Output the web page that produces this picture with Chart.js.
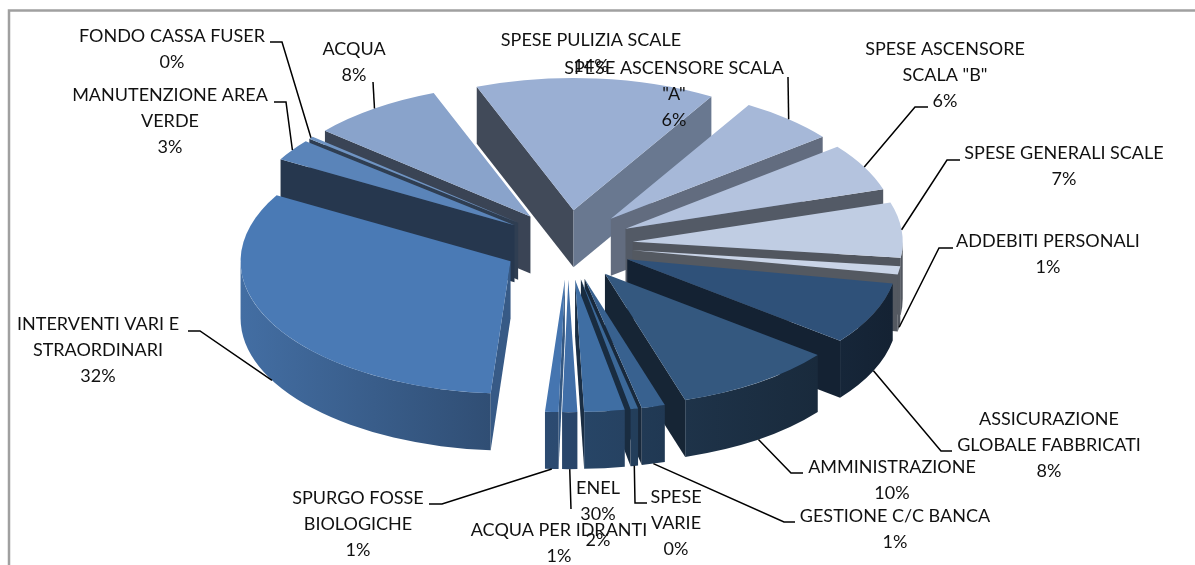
<!DOCTYPE html>
<html>
<head>
<meta charset="utf-8">
<title>Ripartizione spese</title>
<script src="https://cdn.jsdelivr.net/npm/chart.js@4/dist/chart.umd.min.js"></script>
<style>
    html, body { margin: 0; padding: 0; background: #fff; overflow: hidden; }
    canvas { display: block; }
</style>
</head>
<body>
<canvas id="chart-spese" width="1195" height="565"></canvas>
<script>
// ── Dati ─────────────────────────────────────────────────────────
const categories = [
    'SPESE PULIZIA SCALE', 'SPESE ASCENSORE SCALA "A"', 'SPESE ASCENSORE SCALA "B"', 'SPESE GENERALI SCALE',
    'ADDEBITI PERSONALI', 'ASSICURAZIONE GLOBALE FABBRICATI', 'AMMINISTRAZIONE', 'GESTIONE C/C BANCA',
    'SPESE VARIE', 'ENEL 30%', 'ACQUA PER IDRANTI', 'SPURGO FOSSE BIOLOGICHE',
    'INTERVENTI VARI E STRAORDINARI', 'MANUTENZIONE AREA VERDE', 'FONDO CASSA FUSER', 'ACQUA'
];
const values = [14.3, 5.8, 5.8, 6.7, 1, 7.6, 9.6, 1.4, 0.45, 2.4, 0.9, 0.8, 32, 2.6, 0.3, 7.9];

// righe delle etichette, come vanno a capo nel grafico
const labelLines = [
    ['SPESE PULIZIA SCALE'], ['SPESE ASCENSORE SCALA', '"A"'], ['SPESE ASCENSORE', 'SCALA "B"'], ['SPESE GENERALI SCALE'],
    ['ADDEBITI PERSONALI'], ['ASSICURAZIONE', 'GLOBALE FABBRICATI'], ['AMMINISTRAZIONE'], ['GESTIONE C/C BANCA'],
    ['SPESE', 'VARIE'], ['ENEL', '30%'], ['ACQUA PER IDRANTI'], ['SPURGO FOSSE', 'BIOLOGICHE'],
    ['INTERVENTI VARI E', 'STRAORDINARI'], ['MANUTENZIONE AREA', 'VERDE'], ['FONDO CASSA FUSER'], ['ACQUA']
];

const sliceColors = [
    '#9aafd3', '#a6b8d8', '#b4c3de', '#c0cde3', '#c9d4e7', '#2f5179', '#34587f', '#38618f',
    '#3b6898', '#3f6ea3', '#416fa8', '#4575b0', '#4a7ab5', '#5a84b9', '#6f94c3', '#89a3cb'
];

// ── Layout etichette: centro testo, prima riga, gomito della linea guida ──
const labelBoxes = [
    { x: 591, y: 40 }, { x: 674, y: 68, stub: [788, 77], elbow: [788, 77] },
    { x: 945, y: 49, stub: [928, 107], elbow: [915, 107] }, { x: 1064, y: 153, stub: [960, 160], elbow: [947, 160] },
    { x: 1048, y: 241, stub: [953, 248], elbow: [939, 248] }, { x: 1049, y: 419, stub: [952, 451], elbow: [941, 451] },
    { x: 892, y: 467, stub: [803, 473], elbow: [791, 473] }, { x: 895, y: 516, stub: [795, 522], elbow: [784, 522] },
    { x: 676, y: 497, stub: [647, 503], elbow: [635, 503] }, { x: 598, y: 488 },
    { x: 559, y: 530, stub: [571, 509], elbow: [571, 509] }, { x: 358, y: 498, stub: [429, 504], elbow: [442, 504] },
    { x: 98, y: 324, stub: [188, 331], elbow: [200, 331] }, { x: 170, y: 95, stub: [274, 102], elbow: [286, 102] },
    { x: 172, y: 36, stub: [270, 42], elbow: [282, 42] }, { x: 354, y: 49, stub: [373, 82], elbow: [373, 82] }
];

// ── Finta prospettiva 3D ─────────────────────────────────────────
const TILT = 0.49;     // schiacciamento verticale
const DEPTH = 57;      // spessore della torta
const EXPLODE = 65;    // distacco delle fette dal centro
const FRONT_DROP = 3;  // le fette davanti scendono un po' (prospettiva)
const LINE_H = 26;

function shade(hex, f) {
    const n = parseInt(hex.slice(1), 16);
    const c = [n >> 16, (n >> 8) & 255, n & 255].map(v => Math.round(v * f));
    return `rgb(${c[0]},${c[1]},${c[2]})`;
}

// luminosita' delle pareti radiali in base alla normale
function radialShade(nx) {
    return 0.42 + 0.4 * Math.max(0, nx - 0.2);
}

// luminosita' della parete esterna, angolo in radianti del grafico
function rimShade(a) {
    const deg = a * 180 / Math.PI + 90;
    return Math.min(0.9, Math.max(0.42, 0.45 + (deg - 120) / 150 * 0.45));
}

function sliceGeom(arc) {
    const mid = (arc.startAngle + arc.endAngle) / 2;
    const cx = arc.x + EXPLODE * Math.cos(mid);
    const cy = arc.y + EXPLODE * Math.sin(mid) * TILT + FRONT_DROP * (1 + Math.sin(mid));
    return {
        mid, cx, cy,
        r: arc.outerRadius,
        at: a => [cx + arc.outerRadius * Math.cos(a), cy + arc.outerRadius * Math.sin(a) * TILT]
    };
}

function radialWall(ctx, g, a, color) {
    const p = g.at(a);
    ctx.fillStyle = color;
    ctx.beginPath();
    ctx.moveTo(g.cx, g.cy);
    ctx.lineTo(p[0], p[1]);
    ctx.lineTo(p[0], p[1] + DEPTH);
    ctx.lineTo(g.cx, g.cy + DEPTH);
    ctx.closePath();
    ctx.fill();
}

function drawSlice(ctx, arc, color) {
    const g = sliceGeom(arc);
    const a0 = arc.startAngle, a1 = arc.endAngle;

    if (Math.cos(a0) < 0) radialWall(ctx, g, a0, shade(color, radialShade(Math.sin(a0))));
    if (Math.cos(a1) > 0) radialWall(ctx, g, a1, shade(color, radialShade(-Math.sin(a1))));

    // parete esterna, solo la parte rivolta verso chi guarda
    const lo = Math.max(a0, 0), hi = Math.min(a1, Math.PI);
    if (hi > lo) {
        const pLo = g.at(lo), pHi = g.at(hi);
        const grad = ctx.createLinearGradient(pLo[0], 0, pHi[0] - 0.01, 0);
        grad.addColorStop(0, shade(color, rimShade(lo)));
        grad.addColorStop(1, shade(color, rimShade(hi)));
        ctx.fillStyle = grad;
        ctx.beginPath();
        ctx.ellipse(g.cx, g.cy, g.r, g.r * TILT, 0, lo, hi);
        ctx.ellipse(g.cx, g.cy + DEPTH, g.r, g.r * TILT, 0, hi, lo, true);
        ctx.closePath();
        ctx.fill();
    }

    // faccia superiore: la disegna l'arco di Chart.js, schiacciato e spostato
    ctx.save();
    ctx.translate(g.cx, g.cy);
    ctx.scale(1, TILT);
    ctx.translate(-arc.x, -arc.y);
    arc.draw(ctx);
    ctx.restore();
}

const pie3d = {
    id: 'pie3d',
    beforeDraw(chart) {
        const ctx = chart.ctx;
        ctx.save();
        ctx.strokeStyle = '#a0a0a0';
        ctx.lineWidth = 2.5;
        ctx.strokeRect(9, 10.5, 1200, 600);
        ctx.restore();
    },
    beforeDatasetsDraw(chart) {
        const ctx = chart.ctx;
        const arcs = chart.getDatasetMeta(0).data;
        const order = arcs.map((arc, i) => i).sort((a, b) =>
            Math.sin((arcs[a].startAngle + arcs[a].endAngle) / 2) - Math.sin((arcs[b].startAngle + arcs[b].endAngle) / 2));
        order.forEach(i => drawSlice(ctx, arcs[i], sliceColors[i]));
        return false;
    },
    afterDraw(chart) {
        const ctx = chart.ctx;
        const arcs = chart.getDatasetMeta(0).data;
        const total = values.reduce((s, v) => s + v, 0);
        ctx.save();

        // linee guida
        ctx.strokeStyle = '#000';
        ctx.lineWidth = 1.5;
        labelBoxes.forEach((box, i) => {
            if (!box.stub) return;
            const g = sliceGeom(arcs[i]);
            const end = g.at(g.mid);
            const y = Math.sin(g.mid) > 0 ? end[1] + DEPTH : end[1];
            ctx.beginPath();
            ctx.moveTo(box.stub[0], box.stub[1]);
            ctx.lineTo(box.elbow[0], box.elbow[1]);
            ctx.lineTo(end[0], y);
            ctx.stroke();
        });

        // testi
        ctx.fillStyle = '#111';
        ctx.font = '18px Lato';
        ctx.textAlign = 'center';
        ctx.textBaseline = 'middle';
        labelBoxes.forEach((box, i) => {
            const lines = [...labelLines[i], Math.round(values[i] / total * 100) + '%'];
            lines.forEach((t, n) => ctx.fillText(t, box.x, box.y + n * LINE_H));
        });
        ctx.restore();
    }
};

new Chart(document.getElementById('chart-spese'), {
    type: 'pie',
    data: {
        labels: categories,
        datasets: [{
            data: values,
            backgroundColor: sliceColors,
            borderWidth: 0
        }]
    },
    options: {
        responsive: false,
        animation: false,
        rotation: -21,
        radius: 270,
        layout: { padding: { right: 59, bottom: 81 } },
        plugins: {
            legend: { display: false },
            tooltip: { enabled: false }
        }
    },
    plugins: [pie3d]
});
</script>
</body>
</html>
